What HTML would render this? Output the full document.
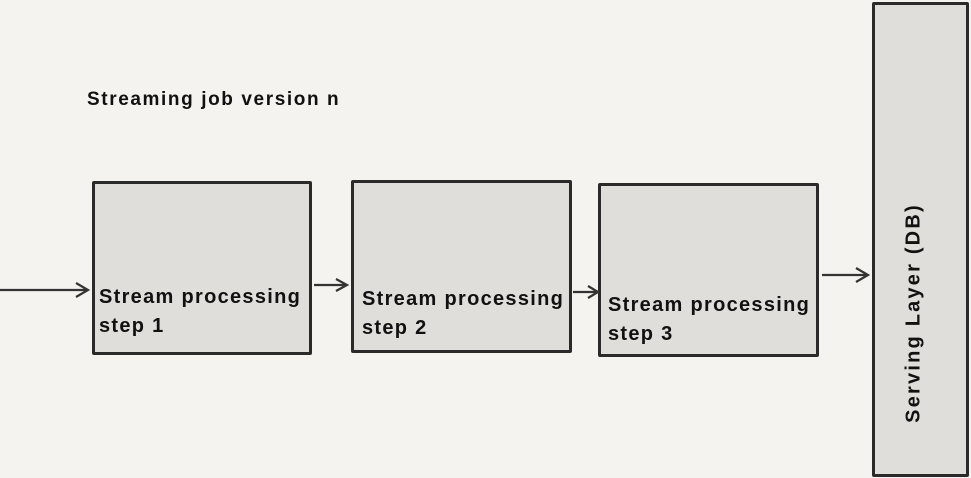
<!DOCTYPE html>
<html><head><style>
body{margin:0;width:971px;height:478px;background:#f4f3ef;position:relative;overflow:hidden;font-family:"Liberation Sans",sans-serif;font-weight:bold;color:#111}
.b{position:absolute;background:#dfdedb;border:3px solid #2a2a2a;box-sizing:border-box;border-radius:2px}
.t{position:absolute;font-size:20px;line-height:29px;white-space:nowrap;letter-spacing:1.3px}
</style></head><body>
<div class="t" style="left:87px;top:85px;font-size:19px;letter-spacing:1.6px">Streaming job version n</div>
<div class="b" style="left:92px;top:181px;width:220px;height:174px"></div>
<div class="b" style="left:351px;top:180px;width:221px;height:173px"></div>
<div class="b" style="left:598px;top:183px;width:221px;height:174px"></div>
<div class="b" style="left:872px;top:2px;width:97px;height:475px"></div>
<div class="t" style="left:99px;top:283px">Stream processing<br>step 1</div>
<div class="t" style="left:362px;top:285px">Stream processing<br>step 2</div>
<div class="t" style="left:608px;top:291px">Stream processing<br>step 3</div>
<div class="t" style="left:914px;top:313px;transform:translate(-50%,-50%) rotate(-90deg);letter-spacing:2.2px">Serving Layer (DB)</div>
<svg width="971" height="478" style="position:absolute;left:0;top:0">
<g stroke="#333" stroke-width="2.2" fill="none">
<path d="M0 290H87M76 283L88 290L76 297"/>
<path d="M314 285H346M336 279L347 285L336 291"/>
<path d="M573 292H597M588 286L598 292L588 298"/>
<path d="M822 275H867M856 268L868 275L856 282"/>
</g></svg>
</body></html>
